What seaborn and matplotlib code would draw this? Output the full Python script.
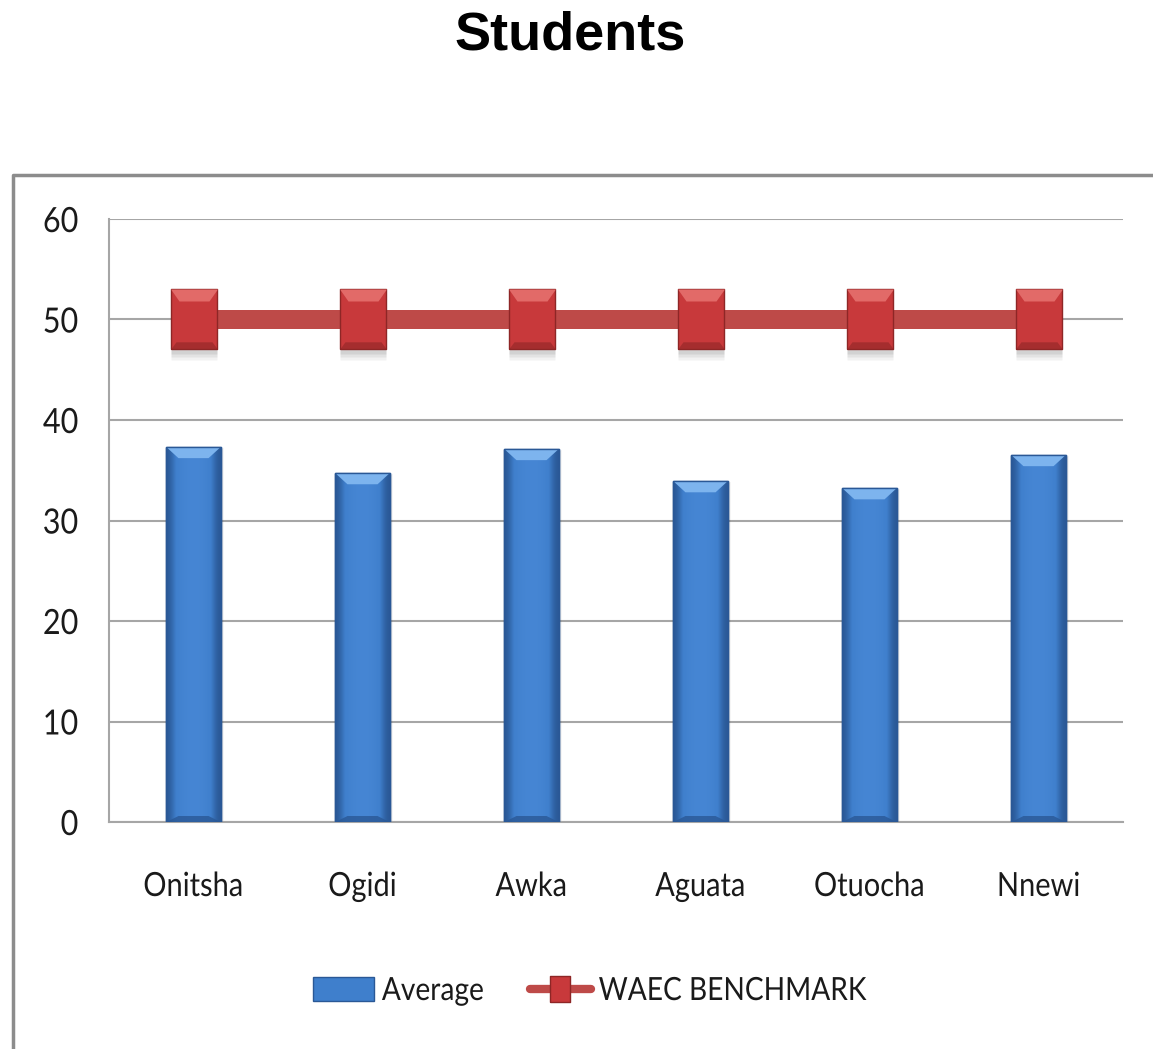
import numpy as np
import pandas as pd
import matplotlib
matplotlib.use("Agg")
import matplotlib.pyplot as plt
from matplotlib.patches import Polygon, Patch
from matplotlib.lines import Line2D
from matplotlib.patheffects import AbstractPathEffect
from matplotlib.transforms import Affine2D
import seaborn as sns

# Data
categories = ["Onitsha", "Ogidi", "Awka", "Aguata", "Otuocha", "Nnewi"]
average = [37.3, 34.7, 37.1, 33.9, 33.2, 36.5]
benchmark = [50, 50, 50, 50, 50, 50]
y_ticks = [0, 10, 20, 30, 40, 50, 60]
title = "Students"
series_names = ["Average", "WAEC BENCHMARK"]

sns.set_theme(style="white")
plt.rcParams["font.family"] = ["Lato", "DejaVu Sans"]


class Condense(AbstractPathEffect):
    """Draw text glyphs narrowed horizontally around an anchor."""

    def __init__(self, sx=0.88, anchor="center"):
        super().__init__()
        self.sx = sx
        self.anchor = anchor

    def draw_path(self, renderer, gc, tpath, affine, rgbFace=None):
        ext = tpath.get_extents()
        if self.anchor == "left":
            cx = ext.x0
        elif self.anchor == "right":
            cx = ext.x1
        else:
            cx = 0.5 * (ext.x0 + ext.x1)
        t = Affine2D().translate(-cx, 0).scale(self.sx, 1).translate(cx, 0) + affine
        renderer.draw_path(gc, tpath, t, rgbFace)


W, H = 1153, 1049
fig = plt.figure(figsize=(W / 100, H / 100), dpi=100)
ax = fig.add_axes([109 / W, 1 - 822 / H, (1123 - 109) / W, (822 - 219) / H])

df = pd.DataFrame({"district": categories, "average": average, "benchmark": benchmark})

BLUE = "#3F7FCC"
BLUE_DARK = "#2A5896"
BLUE_LIGHT = "#7DB4EE"
RED = "#C8393B"
RED_LINE = "#BE4A48"
RED_DARK = "#8E2626"
RED_LIGHT = "#E26A68"

sns.barplot(data=df, x="district", y="average", color=BLUE, width=0.32,
            saturation=1, ax=ax, zorder=3, edgecolor=BLUE_DARK, linewidth=1)

# bevel shading on each bar
grad = np.array([[0.0, 0.55, 0.85, 1.0, 1.0, 0.85, 0.55, 0.0]])
cmap = matplotlib.colors.LinearSegmentedColormap.from_list("bev", [BLUE_DARK, BLUE, "#4686D4"])
px_x = 1.0 / 169.0   # data units per pixel horizontally
px_y = 60.0 / 603.0  # data units per pixel vertically
for bar in list(ax.patches):
    x0, w, h = bar.get_x(), bar.get_width(), bar.get_height()
    # soft shadow
    for k, a in [(5, 0.04), (3, 0.05), (1.5, 0.06)]:
        ax.add_patch(matplotlib.patches.Rectangle((x0 - k * px_x * 0.3, 0), w + k * px_x,
                     h + k * px_y * 0.2 - 0.2, facecolor="#000000", alpha=a, zorder=2,
                     linewidth=0))
    im = ax.imshow(grad, cmap=cmap, aspect="auto", extent=(x0, x0 + w, 0, h),
                   zorder=3.5, interpolation="bicubic")
    im.set_clip_path(bar)
    ix, iy = 12 * px_x, 11 * px_y
    top = Polygon([(x0, h), (x0 + w, h), (x0 + w - ix, h - iy), (x0 + ix, h - iy)],
                  closed=True, facecolor=BLUE_LIGHT, edgecolor="none", zorder=4)
    ax.add_patch(top)
    bot = Polygon([(x0, 0), (x0 + w, 0), (x0 + w - ix, 6 * px_y), (x0 + ix, 6 * px_y)],
                  closed=True, facecolor=BLUE_DARK, edgecolor="none", zorder=4, alpha=0.8)
    ax.add_patch(bot)
    ax.add_patch(matplotlib.patches.Rectangle((x0, 0), w, h, facecolor="none",
                 edgecolor=BLUE_DARK, linewidth=1, zorder=4.2))

# benchmark line with rectangular markers
rect = [(-0.39, -0.5), (0.39, -0.5), (0.39, 0.5), (-0.39, 0.5), (-0.39, -0.5)]
top_bevel = [(-0.39, 0.5), (0.39, 0.5), (0.25, 0.3), (-0.25, 0.3), (-0.39, 0.5),
             (0.39, -0.5)]
bot_bevel = [(-0.39, -0.5), (0.39, -0.5), (0.3, -0.38), (-0.3, -0.38), (-0.39, -0.5),
             (0.39, 0.5)]
msize = 60 * 72 / 100
sns.lineplot(data=df, x="district", y="benchmark", color=RED_LINE, linewidth=19 * 72 / 100,
             ax=ax, zorder=5, sort=False, solid_capstyle="butt")
xs = np.arange(len(categories))
for dy, a in [(1.0, 0.05), (0.7, 0.06), (0.4, 0.07)]:
    ax.plot(xs, np.array(benchmark) - dy, linestyle="none", marker=rect, markersize=msize,
            markerfacecolor="#000000", markeredgecolor="none", alpha=a, zorder=5.5)
ax.plot(xs, benchmark, linestyle="none", marker=rect, markersize=msize,
        markerfacecolor=RED, markeredgecolor=RED_DARK, markeredgewidth=1, zorder=6)
ax.plot(xs, benchmark, linestyle="none", marker=top_bevel, markersize=msize,
        markerfacecolor=RED_LIGHT, markeredgecolor="none", zorder=6.5)
ax.plot(xs, benchmark, linestyle="none", marker=bot_bevel, markersize=msize,
        markerfacecolor=RED_DARK, markeredgecolor="none", alpha=0.6, zorder=6.5)

ax.set_ylim(0, 60)
ax.set_xlim(-0.5, len(categories) - 0.5)
ax.set_yticks(y_ticks)
ax.set_xlabel("")
ax.set_ylabel("")
ax.yaxis.grid(True, color="#A6A6A6", linewidth=1.5, zorder=0)
ax.set_axisbelow(True)
for side in ["top", "right"]:
    ax.spines[side].set_visible(False)
for side in ["left", "bottom"]:
    ax.spines[side].set_color("#A6A6A6")
    ax.spines[side].set_linewidth(1.5)
ax.tick_params(axis="y", length=0, pad=22, labelsize=25, labelcolor="#1a1a1a")
ax.tick_params(axis="x", length=0, pad=36, labelsize=24, labelcolor="#1a1a1a")
for lbl in ax.get_xticklabels():
    lbl.set_path_effects([Condense(0.87, "center")])
for lbl in ax.get_yticklabels():
    lbl.set_path_effects([Condense(0.88, "right")])

# title
fig.text(570 / W, 1 - 35 / H, title, ha="center", va="center", fontsize=39,
         fontweight="bold", family=["Liberation Sans", "DejaVu Sans"], color="black")

# outer chart frame
fx, fy = 13 / W, 1 - 175 / H
fig.add_artist(Line2D([fx, fx, 1.01], [-0.01, fy, fy], transform=fig.transFigure,
                      color="#8C8C8C", linewidth=2.5))

# legend
handles = [
    Patch(facecolor=BLUE, edgecolor=BLUE_DARK),
    Line2D([0], [0], color=RED_LINE, linewidth=6, marker=rect, markersize=19,
           markerfacecolor=RED, markeredgecolor=RED_DARK),
]
leg = fig.legend(handles, series_names, loc="center", bbox_to_anchor=(608 / W, 1 - 991 / H),
                 ncol=2, frameon=False, fontsize=23, handlelength=1.9, handleheight=0.75,
                 columnspacing=1.0, handletextpad=0.25)
for txt in leg.get_texts():
    txt.set_path_effects([Condense(0.88, "left")])
    txt.set_color("#1a1a1a")

fig.savefig("out.png", dpi=100)
